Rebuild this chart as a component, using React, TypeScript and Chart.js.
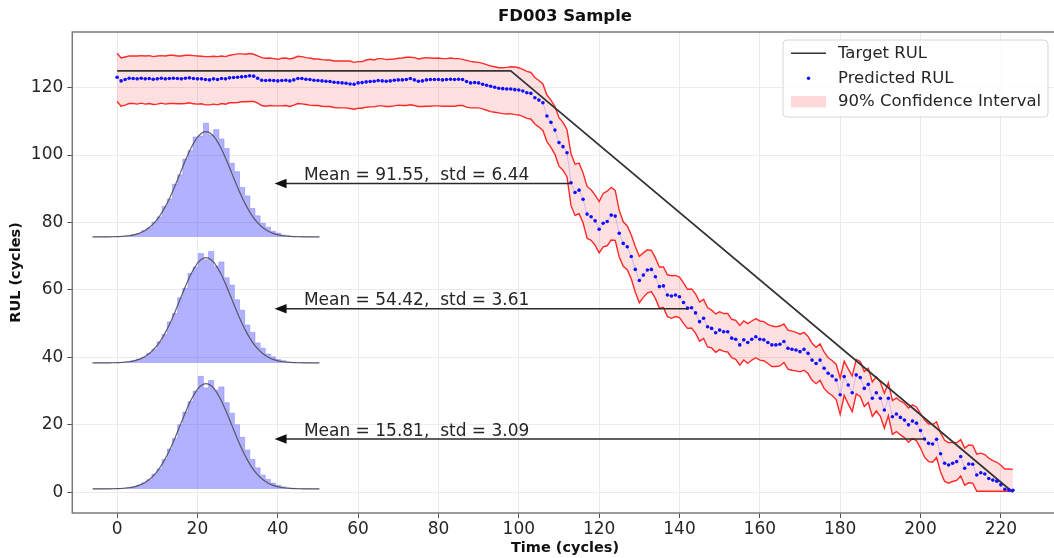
import React, { useEffect, useRef } from "react";
import { Chart, registerables } from "chart.js";

Chart.register(...registerables);

// ---------------- DATA ----------------
const predicted: number[] = [
  123.1, 122.0, 122.4, 122.8, 122.7, 122.6, 122.8, 122.6, 122.7, 122.5,
  122.6, 122.8, 122.6, 122.7, 122.8, 122.7, 122.6, 122.8, 122.9, 122.7,
  122.6, 122.6, 122.4, 122.3, 122.6, 122.4, 122.7, 122.6, 122.9, 123.0,
  123.1, 123.2, 123.3, 123.5, 123.4, 122.8, 122.2, 122.1, 122.2, 122.1,
  122.0, 122.1, 122.2, 122.0, 122.3, 122.7, 122.7, 122.5, 122.4, 122.2,
  122.1, 122.0, 121.9, 121.8, 121.6, 121.5, 121.4, 121.3, 121.1, 121.0,
  121.4, 121.5, 121.7, 121.8, 121.9, 122.1, 122.0, 121.9, 122.0, 122.2,
  122.3, 122.3, 122.4, 122.7, 122.3, 121.9, 122.0, 122.3, 122.4, 122.4,
  122.4, 122.3, 122.4, 122.5, 122.4, 122.5, 122.4, 121.8, 121.4, 121.5,
  121.4, 121.0, 120.7, 120.4, 120.1, 119.8, 119.7, 119.6, 119.6, 119.4,
  119.3, 119.0, 118.5, 118.3, 117.0, 116.3, 115.5, 111.6, 109.7, 107.4,
  103.7, 102.5, 100.7, 91.8, 88.9, 89.6, 86.9, 82.5, 81.7, 80.5,
  78.0, 79.8, 80.3, 82.2, 81.9, 76.8, 73.8, 72.8, 69.9, 66.1,
  62.8, 64.4, 65.9, 66.1, 63.9, 61.0, 61.2, 58.5, 58.2, 58.5,
  58.0, 56.3, 54.6, 54.7, 53.2, 50.6, 51.6, 49.1, 48.6, 47.3,
  48.1, 47.6, 47.6, 45.7, 45.4, 43.7, 45.2, 44.4, 45.4, 46.1,
  45.4, 45.2, 44.4, 43.7, 43.7, 43.9, 44.7, 42.7, 42.4, 42.2,
  41.7, 42.4, 41.2, 39.2, 38.2, 39.2, 36.8, 35.3, 34.5, 33.3,
  28.9, 34.3, 31.8, 29.5, 34.8, 34.0, 30.8, 32.0, 27.9, 29.5,
  27.9, 24.4, 27.9, 22.4, 23.2, 22.2, 21.4, 20.0, 21.1, 20.5,
  18.3, 15.8, 14.5, 14.3, 15.7, 11.4, 8.6, 8.1, 8.6, 9.1,
  10.6, 7.1, 8.4, 8.3, 5.1, 5.8, 5.4, 4.1, 3.6, 3.3,
  2.2, 0.9, 0.7, 0.6,
];

// distance of the upper 90% bound above the prediction
const upperOffset: number[] = [
  7.1, 6.8, 6.7, 6.6, 6.7, 6.8, 6.7, 6.8, 6.8, 6.7,
  6.8, 6.7, 6.8, 6.9, 6.8, 6.7, 6.8, 6.8, 6.7, 6.8,
  6.8, 6.7, 6.8, 6.9, 6.7, 6.8, 6.7, 6.6, 6.7, 6.8,
  6.9, 6.8, 6.6, 6.6, 6.5, 6.6, 6.7, 6.6, 6.6, 6.5,
  6.4, 6.6, 6.6, 6.5, 6.5, 6.6, 6.5, 6.4, 6.4, 6.3,
  6.4, 6.3, 6.3, 6.4, 6.3, 6.4, 6.5, 6.6, 6.8, 6.5,
  6.3, 6.2, 6.5, 6.6, 6.3, 6.5, 6.6, 6.4, 6.4, 6.3,
  6.4, 6.5, 6.6, 6.3, 6.6, 6.6, 6.7, 6.6, 6.4, 6.3,
  6.4, 6.3, 6.2, 6.3, 6.2, 6.1, 6.0, 6.3, 6.4, 6.1,
  6.1, 6.2, 6.1, 6.0, 6.1, 6.1, 6.2, 6.4, 6.6, 6.7,
  6.6, 6.4, 6.3, 6.2, 6.0, 5.8, 5.6, 6.2, 6.6, 7.0,
  7.4, 7.2, 6.8, 8.6, 8.4, 8.0, 7.8, 8.2, 8.0, 7.6,
  8.2, 8.8, 9.0, 8.2, 7.6, 6.8, 6.4, 6.2, 6.4, 6.8,
  7.2, 6.6, 6.0, 5.6, 5.6, 5.8, 5.6, 6.0, 6.0, 5.8,
  5.8, 5.8, 5.6, 5.6, 5.6, 5.8, 5.6, 5.6, 5.4, 5.6,
  5.4, 5.4, 5.4, 5.6, 5.6, 5.8, 5.6, 5.6, 5.4, 5.4,
  5.4, 5.4, 5.4, 5.6, 5.4, 5.4, 5.2, 5.4, 5.4, 5.2,
  5.2, 5.0, 5.0, 5.0, 4.8, 4.8, 4.8, 4.6, 4.6, 4.6,
  5.0, 4.6, 4.8, 5.0, 4.6, 4.8, 5.0, 4.8, 4.8, 4.8,
  4.8, 5.0, 4.6, 4.8, 4.8, 4.8, 5.0, 5.0, 4.8, 4.8,
  5.0, 5.6, 5.8, 5.8, 5.2, 6.2, 6.8, 6.6, 6.2, 5.6,
  5.0, 6.0, 5.6, 5.6, 6.2, 5.8, 5.8, 6.0, 5.8, 5.6,
  5.8, 6.0, 6.2, 6.2,
];

// distance of the lower 90% bound below the prediction
const lowerOffset: number[] = [
  7.2, 7.5, 7.6, 7.5, 7.4, 7.5, 7.4, 7.5, 7.4, 7.5,
  7.5, 7.4, 7.5, 7.4, 7.5, 7.5, 7.4, 7.5, 7.4, 7.5,
  7.5, 7.4, 7.5, 7.4, 7.5, 7.5, 7.4, 7.5, 7.4, 7.5,
  7.5, 7.4, 7.5, 7.6, 7.5, 7.4, 7.5, 7.6, 7.5, 7.5,
  7.4, 7.5, 7.5, 7.6, 7.5, 7.4, 7.5, 7.5, 7.6, 7.5,
  7.4, 7.5, 7.5, 7.4, 7.5, 7.5, 7.4, 7.3, 7.3, 7.4,
  7.5, 7.6, 7.5, 7.5, 7.6, 7.5, 7.4, 7.5, 7.6, 7.6,
  7.5, 7.6, 7.7, 7.8, 7.6, 7.5, 7.6, 7.8, 7.9, 7.8,
  7.8, 7.8, 7.9, 8.0, 7.9, 7.8, 7.7, 7.6, 7.4, 7.5,
  7.4, 7.3, 7.4, 7.5, 7.4, 7.3, 7.4, 7.4, 7.3, 7.4,
  7.4, 7.5, 7.6, 7.6, 7.8, 8.0, 8.2, 7.6, 7.4, 7.2,
  7.0, 7.0, 7.2, 6.8, 6.8, 7.0, 7.0, 7.2, 7.0, 7.2,
  7.0, 7.0, 7.2, 7.4, 7.2, 7.0, 6.8, 6.8, 6.6, 6.8,
  6.6, 6.6, 6.8, 6.6, 6.4, 6.4, 6.4, 6.4, 6.6, 6.4,
  6.2, 6.2, 6.0, 6.0, 6.0, 5.8, 6.0, 6.0, 5.8, 5.8,
  5.8, 5.8, 6.0, 5.8, 6.0, 6.0, 6.0, 6.2, 6.2, 6.2,
  6.2, 6.2, 6.2, 6.4, 6.4, 6.4, 6.2, 6.2, 6.2, 6.2,
  6.0, 6.2, 6.0, 6.0, 6.0, 6.0, 6.0, 5.8, 5.8, 5.8,
  5.8, 5.6, 5.6, 5.6, 5.6, 5.6, 5.4, 5.4, 5.4, 5.4,
  5.4, 5.4, 5.2, 5.2, 5.2, 5.2, 5.2, 5.2, 5.2, 5.2,
  5.2, 5.4, 5.4, 5.4, 5.4, 5.4, 5.4, 5.4, 5.4, 5.6,
  5.8, 5.0, 5.6, 5.6, 4.8, 5.5, 5.1, 3.8, 3.3, 3.0,
  1.9, 0.6, 0.4, 0.3,
];

const targetCycles: number[] = [0, 98, 223];
const targetRul: number[] = [125, 125, 0];

const xTicks: number[] = [0, 20, 40, 60, 80, 100, 120, 140, 160, 180, 200, 220];
const yTicks: number[] = [0, 20, 40, 60, 80, 100, 120];

// annotations (sampled cycles and their predictive distributions)
const annCycle: number[] = [113, 142, 201];
const annMean: number[] = [91.55, 54.42, 15.81];
const annStd: number[] = [6.44, 3.61, 3.09];
const annArrowTipCycle = 39.2;
const annTextCycle = 46.5;

// inset histograms (standardised bin centres, relative heights)
const binZ: number[] = [
  -4.4, -4.2, -4.0, -3.8, -3.6, -3.4, -3.2, -3.0, -2.8, -2.6, -2.4, -2.2, -2.0, -1.8, -1.6,
  -1.4, -1.2, -1.0, -0.8, -0.6, -0.4, -0.2, 0.0, 0.2, 0.4, 0.6, 0.8, 1.0, 1.2, 1.4,
  1.6, 1.8, 2.0, 2.2, 2.4, 2.6, 2.8, 3.0, 3.2, 3.4, 3.6, 3.8, 4.0, 4.2, 4.4,
];
const normalCurve: number[] = [
  0.0, 0.0001, 0.0003, 0.0007, 0.0015, 0.0031, 0.006, 0.0111, 0.0198, 0.034, 0.0561, 0.0889, 0.1353, 0.1979, 0.278,
  0.3753, 0.4868, 0.6065, 0.7261, 0.8353, 0.9231, 0.9802, 1.0, 0.9802, 0.9231, 0.8353, 0.7261, 0.6065, 0.4868, 0.3753,
  0.278, 0.1979, 0.1353, 0.0889, 0.0561, 0.034, 0.0198, 0.0111, 0.006, 0.0031, 0.0015, 0.0007, 0.0003, 0.0001, 0.0,
];
const hist1: number[] = [
  0, 0, 0.001, 0.002, 0.003, 0.004, 0.008, 0.012, 0.022, 0.031, 0.06, 0.085, 0.14, 0.19, 0.29,
  0.36, 0.5, 0.59, 0.74, 0.82, 0.95, 0.96, 1.08, 0.97, 1.02, 0.93, 0.84, 0.7, 0.62, 0.47,
  0.39, 0.27, 0.2, 0.13, 0.092, 0.053, 0.036, 0.018, 0.012, 0.005, 0.003, 0.001, 0.001, 0, 0,
];
const hist2: number[] = [
  0, 0, 0.001, 0.001, 0.002, 0.004, 0.007, 0.011, 0.021, 0.036, 0.054, 0.092, 0.13, 0.2, 0.27,
  0.39, 0.47, 0.62, 0.71, 0.85, 0.91, 1.04, 0.98, 1.06, 0.92, 0.96, 0.81, 0.74, 0.6, 0.5,
  0.36, 0.29, 0.19, 0.14, 0.085, 0.058, 0.032, 0.021, 0.01, 0.006, 0.003, 0.002, 0.001, 0, 0,
];
const hist3: number[] = [
  0, 0.001, 0.001, 0.002, 0.002, 0.004, 0.006, 0.012, 0.019, 0.035, 0.058, 0.087, 0.14, 0.19, 0.28,
  0.38, 0.48, 0.61, 0.73, 0.83, 0.93, 1.07, 0.96, 1.03, 0.94, 0.97, 0.82, 0.72, 0.61, 0.49,
  0.37, 0.28, 0.2, 0.13, 0.09, 0.055, 0.034, 0.02, 0.011, 0.006, 0.003, 0.001, 0.001, 0, 0,
];

// ---------------- STYLE ----------------
const FONT = "'DejaVu Sans', 'Liberation Sans', sans-serif";
const RED = "#ff2a2a";
const BAND = "rgba(255, 0, 0, 0.12)";
const DOT = "#1010ff";
const TARGET = "#333333";

const framePlugin = {
  id: "frame",
  afterDraw(chart: any) {
    const { ctx, chartArea: a } = chart;
    ctx.save();
    ctx.strokeStyle = "#7a7a7a";
    ctx.lineWidth = 1.5;
    ctx.strokeRect(a.left, a.top, a.right - a.left, a.bottom - a.top);
    ctx.restore();
  },
};

const annotationPlugin = {
  id: "meanArrows",
  afterDatasetsDraw(chart: any) {
    const { ctx } = chart;
    const xs = chart.scales.x;
    const ys = chart.scales.y;
    ctx.save();
    for (let i = 0; i < annCycle.length; i++) {
      const x1 = xs.getPixelForValue(annCycle[i]);
      const x0 = xs.getPixelForValue(annArrowTipCycle);
      const y = ys.getPixelForValue(annMean[i]);
      const head = 12;
      ctx.strokeStyle = "#2a2a2a";
      ctx.fillStyle = "#111";
      ctx.lineWidth = 1.5;
      ctx.beginPath();
      ctx.moveTo(x1, y);
      ctx.lineTo(x0 + head - 1, y);
      ctx.stroke();
      ctx.beginPath();
      ctx.moveTo(x0, y);
      ctx.lineTo(x0 + head, y - 4.8);
      ctx.lineTo(x0 + head, y + 4.8);
      ctx.closePath();
      ctx.fill();
      ctx.font = `17px ${FONT}`;
      ctx.fillStyle = "#262626";
      ctx.textAlign = "left";
      ctx.textBaseline = "alphabetic";
      const tx = xs.getPixelForValue(annTextCycle);
      ctx.fillText(
        `Mean = ${annMean[i].toFixed(2)},  std = ${annStd[i].toFixed(2)}`,
        tx,
        y - 3.4
      );
    }
    ctx.restore();
  },
};

const legendPlugin = {
  id: "boxLegend",
  afterDraw(chart: any) {
    const { ctx } = chart;
    const ds = chart.data.datasets;
    const bx = 783, by = 40, bw = 265, bh = 77, r = 4;
    ctx.save();
    ctx.beginPath();
    ctx.moveTo(bx + r, by);
    ctx.lineTo(bx + bw - r, by);
    ctx.quadraticCurveTo(bx + bw, by, bx + bw, by + r);
    ctx.lineTo(bx + bw, by + bh - r);
    ctx.quadraticCurveTo(bx + bw, by + bh, bx + bw - r, by + bh);
    ctx.lineTo(bx + r, by + bh);
    ctx.quadraticCurveTo(bx, by + bh, bx, by + bh - r);
    ctx.lineTo(bx, by + r);
    ctx.quadraticCurveTo(bx, by, bx + r, by);
    ctx.closePath();
    ctx.fillStyle = "rgba(255,255,255,0.85)";
    ctx.fill();
    ctx.strokeStyle = "#d6d6d6";
    ctx.lineWidth = 1;
    ctx.stroke();

    const rows = [53.3, 78.3, 101.7];
    const sx0 = 791, sx1 = 826, tx = 838;
    ctx.strokeStyle = TARGET;
    ctx.lineWidth = 1.6;
    ctx.beginPath();
    ctx.moveTo(sx0, rows[0]);
    ctx.lineTo(sx1, rows[0]);
    ctx.stroke();
    ctx.fillStyle = DOT;
    ctx.beginPath();
    ctx.arc((sx0 + sx1) / 2, rows[1], 1.7, 0, Math.PI * 2);
    ctx.fill();
    ctx.fillStyle = "rgba(255, 0, 0, 0.15)";
    ctx.fillRect(sx0, rows[2] - 5.7, sx1 - sx0, 11.4);

    ctx.font = `16.5px ${FONT}`;
    ctx.fillStyle = "#262626";
    ctx.textAlign = "left";
    ctx.textBaseline = "middle";
    ctx.fillText(ds[1].label, tx, rows[0]);
    ctx.fillText(ds[0].label, tx, rows[1]);
    ctx.fillText(ds[2].label, tx, rows[2]);
    ctx.restore();
  },
};

function makeInset(canvas: HTMLCanvasElement, hist: number[]) {
  return new Chart(canvas, {
    type: "line",
    data: {
      labels: binZ,
      datasets: [
        {
          data: normalCurve,
          borderColor: "rgba(70,70,70,0.85)",
          borderWidth: 1.2,
          pointRadius: 0,
          tension: 0.4,
          fill: false,
        },
        {
          data: hist,
          stepped: "middle",
          borderColor: "rgba(120,120,255,0.55)",
          borderWidth: 0.8,
          backgroundColor: "rgba(40, 40, 255, 0.36)",
          pointRadius: 0,
          fill: "origin",
        },
      ],
    },
    options: {
      animation: false,
      responsive: false,
      events: [],
      layout: { padding: 0 },
      plugins: { legend: { display: false }, tooltip: { enabled: false }, title: { display: false } },
      scales: {
        x: { display: false, offset: true },
        y: { display: false, min: -0.02, max: 1.14 },
      },
    },
  } as any);
}

export default function App() {
  const mainRef = useRef<HTMLCanvasElement>(null);
  const in1 = useRef<HTMLCanvasElement>(null);
  const in2 = useRef<HTMLCanvasElement>(null);
  const in3 = useRef<HTMLCanvasElement>(null);

  useEffect(() => {
    const cyc = predicted.map((_, i) => i);
    const predPts = predicted.map((v, i) => ({ x: cyc[i], y: v }));
    const upPts = predicted.map((v, i) => ({ x: cyc[i], y: v + upperOffset[i] }));
    const loPts = predicted.map((v, i) => ({ x: cyc[i], y: v - lowerOffset[i] }));
    const tgtPts = targetCycles.map((c, i) => ({ x: c, y: targetRul[i] }));

    const main = new Chart(mainRef.current!, {
      type: "line",
      data: {
        datasets: [
          {
            label: "Predicted RUL",
            data: predPts,
            borderColor: "rgba(110,110,255,0.35)",
            borderWidth: 1,
            pointRadius: 1.8,
            pointBackgroundColor: DOT,
            pointBorderWidth: 0,
            fill: false,
          },
          {
            label: "Target RUL",
            data: tgtPts,
            borderColor: TARGET,
            borderWidth: 1.7,
            pointRadius: 0,
            fill: false,
          },
          {
            label: "90% Confidence Interval",
            data: upPts,
            borderColor: RED,
            borderWidth: 1.4,
            pointRadius: 0,
            fill: "+1",
            backgroundColor: BAND,
          },
          {
            label: "lower",
            data: loPts,
            borderColor: RED,
            borderWidth: 1.4,
            pointRadius: 0,
            fill: false,
          },
        ],
      },
      options: {
        animation: false,
        responsive: false,
        events: [],
        layout: { padding: { left: 0, right: 6.3, top: 0, bottom: 0 } },
        plugins: {
          legend: { display: false },
          tooltip: { enabled: false },
          title: {
            display: true,
            fullSize: false,
            text: "FD003 Sample",
            color: "#111",
            font: { family: FONT, size: 16.5, weight: "bold", lineHeight: 1.2 },
            padding: { top: 6.4, bottom: 5.8 },
          },
        },
        scales: {
          x: {
            type: "linear",
            min: -11.15,
            max: 234.15,
            afterFit: (s: any) => {
              s.height = 45;
            },
            afterBuildTicks: (s: any) => {
              s.ticks = xTicks.map((v) => ({ value: v }));
            },
            ticks: {
              includeBounds: false,
              color: "#262626",
              font: { family: FONT, size: 17 },
              padding: 1,
              maxRotation: 0,
              autoSkip: false,
            },
            grid: { color: "#ebebeb", lineWidth: 1, tickLength: 5, tickColor: "#555", drawTicks: true },
            border: { display: false },
            title: {
              display: true,
              text: "Time (cycles)",
              color: "#111",
              font: { family: FONT, size: 14.5, weight: "bold", lineHeight: 1.2 },
              padding: { top: 0, bottom: 1 },
            },
          },
          y: {
            type: "linear",
            min: -6.15,
            max: 136.5,
            afterFit: (s: any) => {
              s.width = 72.3;
            },
            afterBuildTicks: (s: any) => {
              s.ticks = yTicks.map((v) => ({ value: v }));
            },
            ticks: {
              includeBounds: false,
              color: "#262626",
              font: { family: FONT, size: 17 },
              padding: 4,
              autoSkip: false,
            },
            grid: { color: "#ebebeb", lineWidth: 1, tickLength: 5, tickColor: "#555", drawTicks: true },
            border: { display: false },
            title: {
              display: true,
              text: "RUL (cycles)",
              color: "#111",
              font: { family: FONT, size: 14.5, weight: "bold", lineHeight: 1.2 },
              padding: { top: 8, bottom: 0 },
            },
          },
        },
      },
      plugins: [framePlugin, annotationPlugin, legendPlugin],
    } as any);

    const c1 = makeInset(in1.current!, hist1);
    const c2 = makeInset(in2.current!, hist2);
    const c3 = makeInset(in3.current!, hist3);

    return () => {
      main.destroy();
      c1.destroy();
      c2.destroy();
      c3.destroy();
    };
  }, []);

  return (
    <div
      style={{
        position: "fixed",
        left: 0,
        top: 0,
        width: 1054,
        height: 558,
        overflow: "hidden",
        background: "#fff",
      }}
    >
      <canvas ref={mainRef} width={1064} height={558} style={{ position: "absolute", left: 0, top: 0 }} />
      <canvas ref={in1} width={232} height={122} style={{ position: "absolute", left: 90, top: 117 }} />
      <canvas ref={in2} width={232} height={122} style={{ position: "absolute", left: 90, top: 243 }} />
      <canvas ref={in3} width={232} height={122} style={{ position: "absolute", left: 90, top: 369 }} />
    </div>
  );
}
